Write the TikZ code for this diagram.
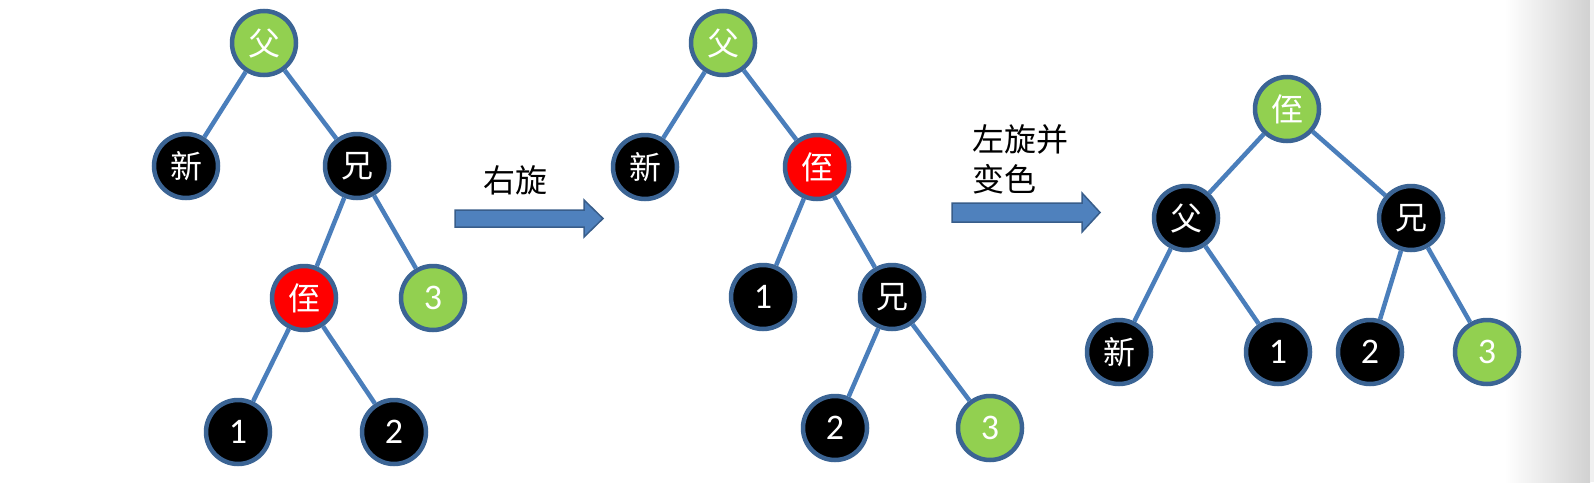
\documentclass[tikz,border=0pt]{standalone}
\usepackage{fontspec}
\setmainfont{Carlito}
\newfontfamily\cjk{Noto Sans CJK SC}
\definecolor{edgeblue}{HTML}{4A7EBB}
\definecolor{rimblue}{HTML}{3B6494}
\definecolor{leafgreen}{HTML}{92D050}
\definecolor{nodered}{HTML}{FF0000}
\definecolor{arrowblue}{HTML}{4F81BD}
\definecolor{arrowrim}{HTML}{385D8A}
\begin{document}
\begin{tikzpicture}[x=1pt,y=-1pt,
  rb/.style={circle, minimum size=64pt, inner sep=0pt, line width=4.5pt, draw=rimblue, text=white},
  blk/.style={rb, fill=black},
  grn/.style={rb, fill=leafgreen},
  rnode/.style={rb, fill=nodered},
  cj/.style={font=\cjk\fontsize{32}{38}\selectfont},
  dg/.style={font=\fontsize{36}{40}\selectfont},
  edge/.style={draw=edgeblue, line width=4.5pt},
  blockarrow/.style={fill=arrowblue, draw=arrowrim, line width=1.5pt, line join=miter},
  lbl/.style={text=black, inner sep=0pt, font=\cjk\fontsize{32}{40}\selectfont}
]
\useasboundingbox (0,0) rectangle (1594,482);
\fill[white] (0,0) rectangle (1594,482);
\shade[left color=white, right color=black!18] (1505,0) rectangle (1590,482);
\fill[black!6] (1590,0) rectangle (1594,482);

% Tree 1
\node[grn, cj] (a1) at (264,43) {父};
\node[blk, cj] (a2) at (186,166) {新};
\node[blk, cj] (a3) at (357,166) {兄};
\node[rnode, cj] (a4) at (304,298) {侄};
\node[grn, dg] (a5) at (433,298) {3};
\node[blk, dg] (a6) at (238,432) {1};
\node[blk, dg] (a7) at (394,432) {2};
\draw[edge] (a1) -- (a2);
\draw[edge] (a1) -- (a3);
\draw[edge] (a3) -- (a4);
\draw[edge] (a3) -- (a5);
\draw[edge] (a4) -- (a6);
\draw[edge] (a4) -- (a7);

% Arrow 1
\draw[blockarrow] (455,210) -- (584,210) -- (584,200) -- (603,218.5) -- (584,237) -- (584,227) -- (455,227) -- cycle;
\node[lbl] (t1) at (515,180) {右旋};

% Tree 2
\node[grn, cj] (b1) at (723,43) {父};
\node[blk, cj] (b2) at (645,167) {新};
\node[rnode, cj] (b3) at (817,167) {侄};
\node[blk, dg] (b4) at (763,297) {1};
\node[blk, cj] (b5) at (892,297) {兄};
\node[blk, dg] (b6) at (835,428) {2};
\node[grn, dg] (b7) at (990,428) {3};
\draw[edge] (b1) -- (b2);
\draw[edge] (b1) -- (b3);
\draw[edge] (b3) -- (b4);
\draw[edge] (b3) -- (b5);
\draw[edge] (b5) -- (b6);
\draw[edge] (b5) -- (b7);

% Arrow 2
\draw[blockarrow] (952,203) -- (1082,203) -- (1082,193) -- (1100,212.5) -- (1082,232) -- (1082,222) -- (952,222) -- cycle;
\node[lbl, align=left, anchor=west] (t2) at (972,159) {左旋并\\变色};

% Tree 3
\node[grn, cj] (c1) at (1287,109) {侄};
\node[blk, cj] (c2) at (1186,218) {父};
\node[blk, cj] (c3) at (1411,218) {兄};
\node[blk, cj] (c4) at (1119,352) {新};
\node[blk, dg] (c5) at (1278,352) {1};
\node[blk, dg] (c6) at (1370,352) {2};
\node[grn, dg] (c7) at (1487,352) {3};
\draw[edge] (c1) -- (c2);
\draw[edge] (c1) -- (c3);
\draw[edge] (c2) -- (c4);
\draw[edge] (c2) -- (c5);
\draw[edge] (c3) -- (c6);
\draw[edge] (c3) -- (c7);
\end{tikzpicture}
\end{document}
